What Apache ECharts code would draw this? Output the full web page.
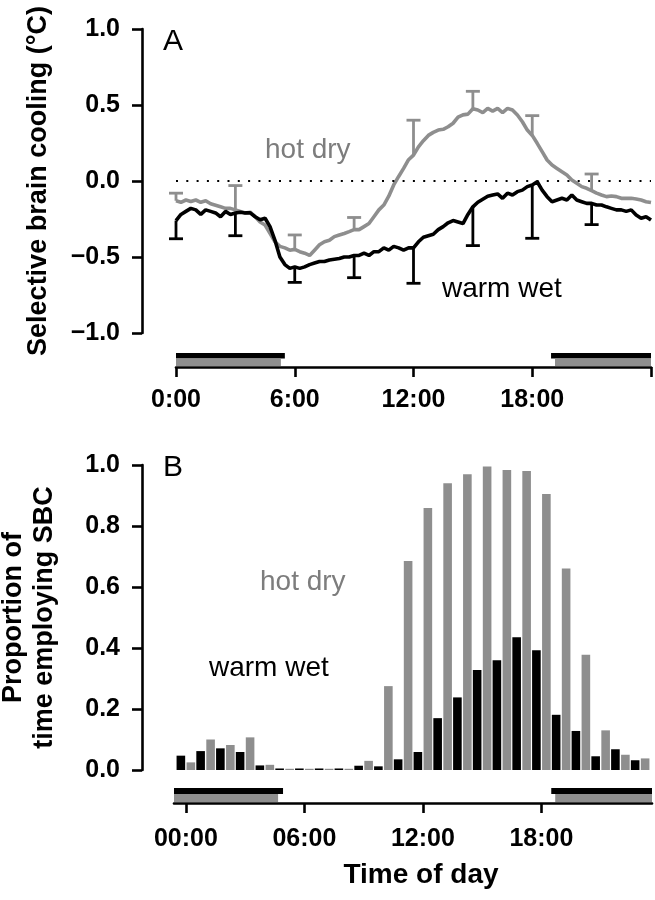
<!DOCTYPE html>
<html><head><meta charset="utf-8">
<script src="https://cdn.jsdelivr.net/npm/echarts@6/dist/echarts.min.js"></script>
<style>html,body{margin:0;padding:0;background:#fff}#c{width:655px;height:900px}</style>
</head><body><div id="c"></div>
<script>
// ---------- Panel A: selective brain cooling (°C), every 15 min, 0:00–24:00 ----------
const sbcWarmWet = [
 -0.26,-0.22,-0.20,-0.18,-0.19,-0.22,-0.19,-0.20,-0.21,-0.235,-0.20,-0.22,
 -0.21,-0.205,-0.21,-0.21,-0.235,-0.255,-0.245,-0.30,-0.39,-0.50,-0.55,-0.575,
 -0.565,-0.575,-0.565,-0.55,-0.54,-0.53,-0.53,-0.52,-0.515,-0.51,-0.50,-0.50,
 -0.49,-0.49,-0.475,-0.49,-0.465,-0.465,-0.44,-0.455,-0.43,-0.44,-0.455,-0.44,
 -0.44,-0.40,-0.37,-0.36,-0.35,-0.32,-0.30,-0.275,-0.26,-0.27,-0.28,-0.22,
 -0.17,-0.14,-0.12,-0.10,-0.092,-0.085,-0.114,-0.08,-0.092,-0.07,-0.06,-0.037,
 -0.026,-0.005,-0.06,-0.103,-0.136,-0.125,-0.114,-0.125,-0.092,-0.125,-0.136,-0.147,
 -0.147,-0.158,-0.158,-0.17,-0.18,-0.19,-0.19,-0.20,-0.19,-0.224,-0.245,-0.235,
 -0.257
];
const sbcHotDry = [
 -0.13,-0.14,-0.125,-0.135,-0.125,-0.14,-0.13,-0.15,-0.16,-0.17,-0.18,-0.18,
 -0.19,-0.20,-0.21,-0.205,-0.235,-0.27,-0.29,-0.345,-0.40,-0.43,-0.44,-0.455,
 -0.45,-0.465,-0.475,-0.49,-0.455,-0.42,-0.40,-0.39,-0.366,-0.355,-0.345,-0.333,
 -0.32,-0.32,-0.30,-0.28,-0.235,-0.19,-0.158,-0.10,-0.026,0.03,0.083,0.14,
 0.17,0.225,0.265,0.30,0.32,0.335,0.34,0.357,0.38,0.42,0.435,0.44,
 0.475,0.467,0.45,0.478,0.46,0.478,0.45,0.478,0.467,0.434,0.39,0.335,
 0.30,0.248,0.193,0.138,0.105,0.083,0.061,0.04,0.007,-0.015,-0.037,-0.048,
 -0.064,-0.08,-0.092,-0.103,-0.099,-0.103,-0.114,-0.114,-0.114,-0.118,-0.125,-0.136,
 -0.142
];
const errHours = [0, 3, 6, 9, 12, 15, 18, 21];
const errHotDryUpper = [-0.08, -0.03, -0.355, -0.24, 0.40, 0.59, 0.43, 0.046];
const errWarmWetLower = [-0.38, -0.36, -0.667, -0.636, -0.673, -0.425, -0.377, -0.287];
const yTicksA = [-1, -0.5, 0, 0.5, 1];
const yTickLabelsA = ['\u22121.0', '\u22120.5', '0.0', '0.5', '1.0'];
const xTicksA = [0, 6, 12, 18, 24];
const xTickLabelsA = ['0:00', '6:00', '12:00', '18:00', ''];
// night periods (hours) shown as bars under panel A
const nightA_warmWet = [[0, 5.5], [18.95, 24]];
const nightA_hotDry = [[0, 5.3], [19.15, 24]];

// ---------- Panel B: proportion of time employing SBC, hourly ----------
const hoursB = [0,1,2,3,4,5,6,7,8,9,10,11,12,13,14,15,16,17,18,19,20,21,22,23];
const propWarmWet = [0.047,0.062,0.071,0.059,0.015,0.005,0.005,0.005,0.005,0.014,0.012,0.035,
                     0.059,0.17,0.238,0.328,0.36,0.435,0.393,0.181,0.128,0.045,0.068,0.032];
const propHotDry  = [0.025,0.10,0.082,0.107,0.017,0.004,0.004,0.004,0.004,0.03,0.275,0.685,
                     0.859,0.94,0.97,0.995,0.984,0.98,0.905,0.661,0.378,0.13,0.05,0.038];
const xTicksB = [0, 6, 12, 18];
const xTickLabelsB = ['00:00', '06:00', '12:00', '18:00'];
const yTickLabelsB = ['0.0', '0.2', '0.4', '0.6', '0.8', '1.0'];
const nightB_warmWet = [[-0.6, 4.92], [18.5, 23.6]];
const nightB_hotDry = [[-0.6, 4.67], [18.7, 23.6]];

// ---------- styles ----------
const FONT = '"Liberation Sans", Arial, Helvetica, sans-serif';
const BLACK = '#000000';
const GREY = '#8e8e8e';
const GREY_TEXT = '#7d7d7d';

const timesA = sbcWarmWet.map((_, i) => i / 4);
const lineData = arr => arr.map((v, i) => [timesA[i], v]);

function nightSeries(xIdx, yIdx, data, yMin, color, top, height) {
  return {
    type: 'custom', xAxisIndex: xIdx, yAxisIndex: yIdx, clip: false, silent: true,
    data: data.map(d => [d[0], d[1], yMin]),
    encode: { x: [0, 1], y: 2 },
    renderItem: (params, api) => {
      const p0 = api.coord([api.value(0), api.value(2)]);
      const p1 = api.coord([api.value(1), api.value(2)]);
      return { type: 'rect', shape: { x: p0[0], y: p0[1] + top, width: p1[0] - p0[0], height: height },
               style: { fill: color } };
    }
  };
}
function errSeries(means, bounds, color) {
  return {
    type: 'custom', xAxisIndex: 0, yAxisIndex: 0, clip: false, silent: true, z: 3,
    data: errHours.map((h, i) => [h, means[Math.round(h * 4)], bounds[i]]),
    encode: { x: 0, y: [1, 2] },
    renderItem: (params, api) => {
      const a = api.coord([api.value(0), api.value(1)]);
      const b = api.coord([api.value(0), api.value(2)]);
      const st = { stroke: color, lineWidth: 2.8 };
      return { type: 'group', children: [
        { type: 'line', shape: { x1: a[0], y1: a[1], x2: b[0], y2: b[1] }, style: st },
        { type: 'line', shape: { x1: b[0] - 7, y1: b[1], x2: b[0] + 7, y2: b[1] }, style: st }
      ]};
    }
  };
}

const axisLineStyle = { color: BLACK, width: 2.6 };
const tickLabel = { color: BLACK, fontFamily: FONT, fontWeight: 'bold', fontSize: 25 };

const option = {
  backgroundColor: '#ffffff',
  animation: false,
  grid: [
    { left: 176, top: 29, width: 475, height: 304, outerBoundsMode: 'none', containLabel: false },
    { left: 174, top: 465, width: 478, height: 305, outerBoundsMode: 'none', containLabel: false }
  ],
  xAxis: [
    { gridIndex: 0, type: 'value', min: 0, max: 24, interval: 6, offset: 34,
      axisLine: { onZero: false, lineStyle: axisLineStyle }, axisTick: { length: 10, lineStyle: axisLineStyle },
      splitLine: { show: false },
      axisLabel: Object.assign({ margin: 21, formatter: v => { const i = xTicksA.indexOf(v); return i >= 0 ? xTickLabelsA[i] : ''; } }, tickLabel) },
    { gridIndex: 1, type: 'value', min: -0.6, max: 23.6, offset: 33,
      axisLine: { onZero: false, lineStyle: axisLineStyle },
      axisTick: { length: 10, lineStyle: axisLineStyle, customValues: xTicksB },
      splitLine: { show: false },
      axisLabel: Object.assign({ margin: 24, customValues: xTicksB, formatter: v => { const i = xTicksB.indexOf(v); return i >= 0 ? xTickLabelsB[i] : ''; } }, tickLabel),
      name: 'Time of day', nameLocation: 'middle', nameGap: 58,
      nameTextStyle: { color: BLACK, fontFamily: FONT, fontWeight: 'bold', fontSize: 28, padding: [0, 0, 0, 16] } }
  ],
  yAxis: [
    { gridIndex: 0, type: 'value', min: -1, max: 1, interval: 0.5, offset: 34,
      axisLine: { show: true, onZero: false, lineStyle: axisLineStyle }, axisTick: { show: true, length: 10, lineStyle: axisLineStyle },
      splitLine: { show: false },
      axisLabel: Object.assign({ margin: 22, formatter: v => { const i = yTicksA.findIndex(t => Math.abs(t - v) < 1e-9); return i >= 0 ? yTickLabelsA[i] : ''; } }, tickLabel),
      name: 'Selective brain cooling (\u00B0C)', nameLocation: 'middle', nameRotate: 90, nameGap: 90,
      nameTextStyle: { color: BLACK, fontFamily: FONT, fontWeight: 'bold', fontSize: 27 } },
    { gridIndex: 1, type: 'value', min: 0, max: 1, interval: 0.2, offset: 32,
      axisLine: { show: true, onZero: false, lineStyle: axisLineStyle }, axisTick: { show: true, length: 10, lineStyle: axisLineStyle },
      splitLine: { show: false },
      axisLabel: Object.assign({ margin: 22, formatter: v => yTickLabelsB[Math.round(v * 5)] }, tickLabel),
      name: 'Proportion of\ntime employing SBC', nameLocation: 'middle', nameRotate: 90, nameGap: 82,
      nameTextStyle: { color: BLACK, fontFamily: FONT, fontWeight: 'bold', fontSize: 27, lineHeight: 31 } }
  ],
  graphic: [
    { type: 'text', x: 163, y: 42, style: { text: 'A', font: 'normal 30px ' + FONT, fill: BLACK, verticalAlign: 'middle' } },
    { type: 'text', x: 163, y: 468, style: { text: 'B', font: 'normal 30px ' + FONT, fill: BLACK, verticalAlign: 'middle' } },
    { type: 'text', x: 265, y: 150, style: { text: 'hot dry', font: 'normal 28px ' + FONT, fill: GREY_TEXT, verticalAlign: 'middle' } },
    { type: 'text', x: 442, y: 289, style: { text: 'warm wet', font: 'normal 28px ' + FONT, fill: BLACK, verticalAlign: 'middle' } },
    { type: 'text', x: 260, y: 582, style: { text: 'hot dry', font: 'normal 28px ' + FONT, fill: GREY_TEXT, verticalAlign: 'middle' } },
    { type: 'text', x: 209, y: 668, style: { text: 'warm wet', font: 'normal 28px ' + FONT, fill: BLACK, verticalAlign: 'middle' } }
  ],
  series: [
    { name: 'hot dry', type: 'line', xAxisIndex: 0, yAxisIndex: 0, data: lineData(sbcHotDry),
      showSymbol: false, lineStyle: { color: GREY, width: 3.6 }, z: 2,
      markLine: { silent: true, symbol: 'none', label: { show: false },
        lineStyle: { color: BLACK, width: 2.2, type: [2, 8.3] }, data: [{ yAxis: 0 }] } },
    { name: 'warm wet', type: 'line', xAxisIndex: 0, yAxisIndex: 0, data: lineData(sbcWarmWet),
      showSymbol: false, lineStyle: { color: BLACK, width: 3.6 }, z: 4 },
    errSeries(sbcHotDry, errHotDryUpper, GREY),
    errSeries(sbcWarmWet, errWarmWetLower, BLACK),
    nightSeries(0, 0, nightA_warmWet, -1, BLACK, 20, 5.5),
    nightSeries(0, 0, nightA_hotDry, -1, GREY, 25.5, 7.5),
    { name: 'warm wet B', type: 'bar', xAxisIndex: 1, yAxisIndex: 1,
      data: hoursB.map((h, i) => [h, propWarmWet[i]]), barWidth: 8.6, barGap: '16%',
      itemStyle: { color: BLACK } },
    { name: 'hot dry B', type: 'bar', xAxisIndex: 1, yAxisIndex: 1,
      data: hoursB.map((h, i) => [h, propHotDry[i]]), barWidth: 8.6, barGap: '16%',
      itemStyle: { color: GREY } },
    nightSeries(1, 1, nightB_warmWet, 0, BLACK, 18, 6),
    nightSeries(1, 1, nightB_hotDry, 0, GREY, 24, 8)
  ]
};
const chart = echarts.init(document.getElementById('c'), null, { renderer: 'canvas' });
chart.setOption(option);
</script></body></html>
